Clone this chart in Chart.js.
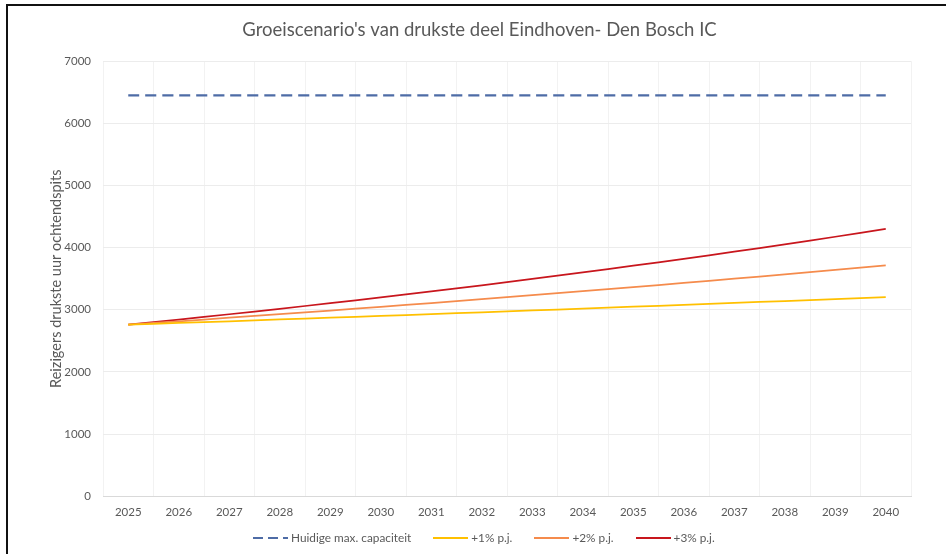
<!DOCTYPE html>
<html>
<head>
<meta charset="utf-8">
<script src="https://cdn.jsdelivr.net/npm/chart.js@4.4.1/dist/chart.umd.min.js"></script>
<style>
  html, body { margin: 0; padding: 0; background: #fff; }
  #wrap { position: relative; width: 946px; height: 554px; overflow: hidden; }
  #frame { position: absolute; left: 6px; top: 4px; width: 1000px; height: 600px;
           border-top: 2px solid #111; border-left: 2px solid #111; }
  canvas { position: absolute; left: 0; top: 0; }
  #legend { position: absolute; left: 253px; top: 530px; display: flex; gap: 22px;
            font: 11.8px Lato, "Open Sans", sans-serif; color: #595959; }
  #legend .item { display: flex; align-items: center; gap: 3px; }
  #legend svg { display: block; }
</style>
</head>
<body>
<div id="wrap">
  <div id="frame"></div>
  <canvas id="myChart" width="946" height="554"></canvas>
  <div id="legend"></div>
</div>
<script>
const years = ['2025', '2026', '2027', '2028', '2029', '2030', '2031', '2032',
  '2033', '2034', '2035', '2036', '2037', '2038', '2039', '2040'];

const capaciteit = [6450, 6450, 6450, 6450, 6450, 6450, 6450, 6450,
  6450, 6450, 6450, 6450, 6450, 6450, 6450, 6450];
const groei1 = [2760, 2788, 2815, 2844, 2872, 2901, 2930, 2959,
  2989, 3018, 3049, 3079, 3110, 3141, 3172, 3204];
const groei2 = [2760, 2815, 2872, 2929, 2988, 3047, 3108, 3171,
  3234, 3299, 3365, 3432, 3500, 3570, 3642, 3715];
const groei3 = [2760, 2843, 2928, 3016, 3106, 3200, 3296, 3394,
  3496, 3601, 3709, 3820, 3935, 4053, 4175, 4300];

const yTicks = [0, 1000, 2000, 3000, 4000, 5000, 6000, 7000];

const fontFamily = 'Lato, "Open Sans", sans-serif';
const gray = '#595959';

const makeLine = (label, data, color, width, dash) => ({
  label: label,
  data: data,
  borderColor: color,
  backgroundColor: color,
  borderWidth: width,
  borderDash: dash,
  pointRadius: 0,
  tension: 0.3,
  fill: false,
});

const data = {
  labels: years,
  datasets: [
    makeLine('Huidige max. capaciteit', capaciteit, '#4e6ca6', 2.25, [11, 6]),
    makeLine('+1% p.j.', groei1, '#ffc000', 1.75, []),
    makeLine('+2% p.j.', groei2, '#f58b4c', 1.75, []),
    makeLine('+3% p.j.', groei3, '#c8161d', 1.75, []),
  ]
};

const config = {
  type: 'line',
  data: data,
  options: {
    responsive: false,
    animation: false,
    layout: {
      padding: { left: 48, right: 35, top: 19, bottom: 26 }
    },
    plugins: {
      title: {
        display: true,
        text: "Groeiscenario's van drukste deel Eindhoven- Den Bosch IC",
        color: gray,
        font: { family: fontFamily, size: 18.5, weight: 'normal' },
        padding: { top: 0, bottom: 20 }
      },
      legend: { display: false },
      tooltip: { enabled: false }
    },
    scales: {
      x: {
        offset: true,
        grid: {
          color: '#f2f2f2',
          offset: true,
          drawTicks: false,
        },
        border: { color: '#d9d9d9' },
        ticks: {
          color: gray,
          font: { family: fontFamily, size: 11.5 },
          padding: 9,
          maxRotation: 0,
        }
      },
      y: {
        min: 0,
        max: 7000,
        afterBuildTicks: scale => {
          scale.ticks = yTicks.map(v => ({ value: v }));
        },
        afterFit: scale => {
          scale.width = 55;
        },
        grid: {
          color: '#ececec',
          drawTicks: false,
        },
        border: { display: false },
        ticks: {
          color: gray,
          font: { family: fontFamily, size: 11.5 },
          padding: 12,
          callback: value => String(value),
        },
        title: {
          display: true,
          text: 'Reizigers drukste uur ochtendspits',
          color: gray,
          font: { family: fontFamily, size: 14.5 },
          padding: 0,
        }
      }
    }
  }
};

const myChart = new Chart(document.getElementById('myChart'), config);

// Legend in HTML, so the dashed sample looks like the reference
const legend = document.getElementById('legend');
data.datasets.forEach(ds => {
  const item = document.createElement('div');
  item.className = 'item';
  const dash = ds.borderDash.length ? 'stroke-dasharray="10 5"' : '';
  item.innerHTML =
    '<svg width="35" height="8"><line x1="0" y1="4" x2="35" y2="4" stroke="' + ds.borderColor +
    '" stroke-width="2" ' + dash + '/></svg><span>' + ds.label + '</span>';
  legend.appendChild(item);
});
</script>
</body>
</html>
